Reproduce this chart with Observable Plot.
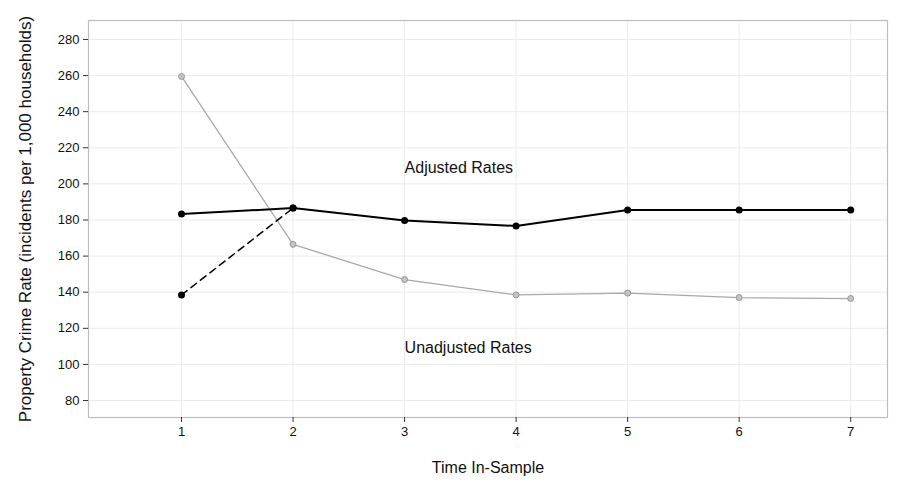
<!DOCTYPE html>
<html>
<head>
<meta charset="utf-8">
<script src="https://cdn.jsdelivr.net/npm/d3@7"></script>
<script src="https://cdn.jsdelivr.net/npm/@observablehq/plot@0.6"></script>
<style>
  html, body { margin: 0; padding: 0; background: #fff; }
  #chart svg { display: block; }
</style>
</head>
<body>
<div id="chart"></div>
<script>
const times = [1, 2, 3, 4, 5, 6, 7];
const adjustedRates = [183.3, 186.6, 179.7, 176.7, 185.5, 185.5, 185.5];
const unadjustedRates = [259.5, 166.5, 147.0, 138.5, 139.5, 137.0, 136.5];
const dashedTimes = [1, 2];
const dashedRates = [138.5, 186.6];
const yTicks = [80, 100, 120, 140, 160, 180, 200, 220, 240, 260, 280];
const annotations = [
  { t: 3, v: 209, label: "Adjusted Rates" },
  { t: 3, v: 109, label: "Unadjusted Rates" }
];
const xTitle = "Time In-Sample";
const yTitle = "Property Crime Rate (incidents per 1,000 households)";

const adjusted = times.map((t, i) => ({ t, v: adjustedRates[i] }));
const unadjusted = times.map((t, i) => ({ t, v: unadjustedRates[i] }));
const dashed = dashedTimes.map((t, i) => ({ t, v: dashedRates[i] }));

const chart = Plot.plot({
  width: 900,
  height: 488,
  marginLeft: 88,
  marginRight: 13,
  marginTop: 20,
  marginBottom: 71,
  style: { fontFamily: "'Liberation Sans', Arial, sans-serif", fontSize: "13px", color: "#111", background: "#fff" },
  x: { domain: [0.166, 7.33] },
  y: { domain: [70.6, 290.5] },
  marks: [
    Plot.gridX(times, { stroke: "#ebebeb", strokeOpacity: 1, strokeWidth: 1 }),
    Plot.gridY(yTicks, { stroke: "#ebebeb", strokeOpacity: 1, strokeWidth: 1 }),
    Plot.frame({ stroke: "#bdbdbd", strokeWidth: 1.2 }),
    Plot.axisX(times, { tickSize: 5, tickPadding: 4, stroke: "#333", fill: "#111", fontSize: 13, label: null }),
    Plot.axisY(yTicks, { tickSize: 5, tickPadding: 4, stroke: "#333", fill: "#111", fontSize: 13, label: null }),
    Plot.line(unadjusted, { x: "t", y: "v", stroke: "#a8a8a8", strokeWidth: 1.3 }),
    Plot.dot(unadjusted, { x: "t", y: "v", r: 3, fill: "#c4c4c4", stroke: "#999", strokeWidth: 1 }),
    Plot.line(dashed, { x: "t", y: "v", stroke: "#000", strokeWidth: 1.5, strokeDasharray: "7,5" }),
    Plot.line(adjusted, { x: "t", y: "v", stroke: "#000", strokeWidth: 2 }),
    Plot.dot(adjusted, { x: "t", y: "v", r: 3.5, fill: "#000" }),
    Plot.dot(dashed, { x: "t", y: "v", r: 3.5, fill: "#000" }),
    Plot.text(annotations, { x: "t", y: "v", text: "label", textAnchor: "start", fontSize: 16, fill: "#111" }),
    Plot.text([xTitle], { frameAnchor: "bottom", textAnchor: "middle", dy: 55, fontSize: 16, fill: "#111" }),
    Plot.text([yTitle], { frameAnchor: "left", textAnchor: "middle", dx: -63, rotate: -90, fontSize: 17, fill: "#111" })
  ]
});
document.getElementById("chart").appendChild(chart);
</script>
</body>
</html>
